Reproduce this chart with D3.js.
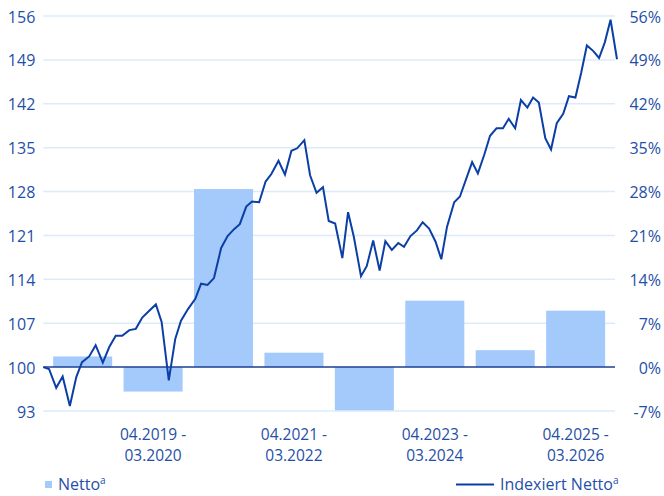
<!DOCTYPE html>
<html>
<head>
<meta charset="utf-8">
<script src="https://cdn.jsdelivr.net/npm/d3@7"></script>
<style>
  body { margin: 0; background: #fff; }
  text { font-family: "Open Sans", "Noto Sans", sans-serif; }
</style>
</head>
<body>
<svg id="chart" width="664" height="496"></svg>
<script>
// Jahreszeiträume (Balken) und Nettorendite je Zeitraum in %
const zeitraeume = [
  "04.2018 - 03.2019", "04.2019 - 03.2020", "04.2020 - 03.2021", "04.2021 - 03.2022",
  "04.2022 - 03.2023", "04.2023 - 03.2024", "04.2024 - 03.2025", "04.2025 - 03.2026"
];
const nettoProzent = [1.7, -3.9, 28.4, 2.3, -6.9, 10.6, 2.7, 9.0];

// Indexierte Nettoentwicklung (Start = 100), Zeitpunkte in Dezimaljahren
const indexZeit = [
  2018.25, 2018.33, 2018.43, 2018.52, 2018.62, 2018.71, 2018.79, 2018.89, 2018.98, 2019.08,
  2019.17, 2019.26, 2019.35, 2019.45, 2019.54, 2019.63, 2019.72, 2019.82, 2019.90, 2020.00,
  2020.09, 2020.17, 2020.27, 2020.37, 2020.45, 2020.54, 2020.63, 2020.73, 2020.82, 2020.91,
  2020.99, 2021.08, 2021.16, 2021.26, 2021.35, 2021.43, 2021.53, 2021.62, 2021.71, 2021.79,
  2021.89, 2021.97, 2022.06, 2022.15, 2022.23, 2022.32, 2022.42, 2022.50, 2022.58, 2022.68,
  2022.76, 2022.85, 2022.94, 2023.02, 2023.11, 2023.20, 2023.28, 2023.37, 2023.46, 2023.54,
  2023.63, 2023.72, 2023.80, 2023.88, 2023.98, 2024.06, 2024.23, 2024.31, 2024.40, 2024.48,
  2024.57, 2024.66, 2024.74, 2024.83, 2024.91, 2025.00, 2025.08, 2025.16, 2025.25, 2025.33,
  2025.41, 2025.50, 2025.58, 2025.67, 2025.75, 2025.83, 2025.92, 2026.00, 2026.08, 2026.16,
  2026.25
];
const indexWert = [
  100.0, 99.7, 96.7, 98.5, 93.8, 98.4, 100.8, 101.7, 103.5, 100.7,
  103.2, 105.0, 105.0, 105.9, 106.1, 107.9, 108.9, 110.0, 107.2, 97.9,
  104.5, 107.4, 109.3, 110.9, 113.3, 113.1, 114.2, 119.0, 120.9, 122.0,
  122.8, 125.6, 126.4, 126.3, 129.6, 130.8, 132.9, 130.7, 134.5, 134.9,
  136.2, 130.6, 127.8, 128.7, 123.3, 122.9, 117.4, 124.7, 120.8, 114.5,
  116.1, 120.2, 115.4, 120.1, 118.7, 119.8, 119.2, 120.9, 121.8, 123.1,
  122.1, 120.0, 117.2, 122.4, 126.3, 127.2, 132.7, 130.9, 133.9, 136.9,
  138.1, 138.1, 139.6, 138.1, 142.6, 141.4, 143.0, 142.2, 136.5, 134.7,
  138.9, 140.4, 143.2, 143.0, 146.9, 151.3, 150.4, 149.3, 151.8, 155.4,
  149.1
];

const indexTicks = [93, 100, 107, 114, 121, 128, 135, 142, 149, 156];
const prozentTicks = [-7, 0, 7, 14, 21, 28, 35, 42, 49, 56];

const farbe = {
  text: "#1f4fa8",
  linie: "#0c3fa6",
  balken: "#a3cafb",
  gitter: "#dcebfc",
  null: "#1d3f91"
};

const svg = d3.select("#chart");
const links = 43.3, rechts = 615, oben = 16, unten = 411;

const y = d3.scaleLinear().domain([93, 156]).range([unten, oben]);
const yProzent = d3.scaleLinear().domain([-7, 56]).range([unten, oben]);
const x = d3.scaleBand().domain(zeitraeume).range([links, rechts])
  .paddingInner(0.162).paddingOuter(0.14);
const xZeit = d3.scaleLinear().domain([2018.25, 2026.25]).range([links, 617]);

// Gitterlinien
svg.append("g").selectAll("line").data(indexTicks.filter(t => t !== 100)).join("line")
  .attr("x1", links).attr("x2", rechts)
  .attr("y1", d => y(d)).attr("y2", d => y(d))
  .attr("stroke", farbe.gitter).attr("stroke-width", 1.5);

// Balken: Nettorendite je Zeitraum
svg.append("g").selectAll("rect").data(zeitraeume).join("rect")
  .attr("x", d => x(d))
  .attr("width", x.bandwidth())
  .attr("y", (d, i) => yProzent(Math.max(0, nettoProzent[i])))
  .attr("height", (d, i) => Math.abs(yProzent(nettoProzent[i]) - yProzent(0)))
  .attr("fill", farbe.balken);

// Nulllinie
svg.append("line")
  .attr("x1", links).attr("x2", rechts)
  .attr("y1", y(100)).attr("y2", y(100))
  .attr("stroke", farbe.null).attr("stroke-width", 1.5);

// Indexlinie
const punkte = indexZeit.map((t, i) => [t, indexWert[i]]);
svg.append("path")
  .datum(punkte)
  .attr("fill", "none")
  .attr("stroke", farbe.linie)
  .attr("stroke-width", 2)
  .attr("stroke-linejoin", "miter")
  .attr("d", d3.line().x(d => xZeit(d[0])).y(d => y(d[1])));

// Achsen
function achsenStil(g) {
  g.select(".domain").remove();
  g.selectAll(".tick line").remove();
  g.selectAll("text")
    .attr("fill", farbe.text)
    .style("font-size", "16px")
    .style("font-family", "'Open Sans', sans-serif");
}

svg.append("g")
  .attr("transform", `translate(${links},0)`)
  .call(d3.axisLeft(y).tickValues(indexTicks).tickSize(0).tickPadding(8).tickFormat(d3.format("d")))
  .call(achsenStil)
  .selectAll("text").attr("dy", "0.38em");

svg.append("g")
  .attr("transform", `translate(661,0)`)
  .call(d3.axisLeft(yProzent).tickValues(prozentTicks).tickSize(0).tickPadding(0).tickFormat(d => d + "%"))
  .call(achsenStil)
  .selectAll("text").attr("dy", "0.38em");

// Zeitraum-Achse: jede zweite Beschriftung, zweizeilig
const xAchse = svg.append("g")
  .attr("transform", `translate(0,${unten})`)
  .call(d3.axisBottom(x).tickValues(zeitraeume.filter((d, i) => i % 2 === 1)).tickSize(0))
  .call(achsenStil);
xAchse.selectAll(".tick text").remove();

xAchse.selectAll(".tick").selectAll("text.zeile")
  .data(d => { const [a, b] = d.split(" - "); return [a + " -", b]; })
  .join("text")
  .attr("class", "zeile")
  .attr("text-anchor", "middle")
  .attr("fill", farbe.text)
  .style("font-size", "15.5px")
  .attr("x", 0)
  .attr("y", (d, i) => 28.5 + i * 21.2)
  .text(d => d);

// Legende
const legende = svg.append("g");
legende.append("rect")
  .attr("x", 45).attr("y", 481).attr("width", 7).attr("height", 7)
  .attr("fill", farbe.balken);
const lt1 = legende.append("text")
  .attr("x", 58).attr("y", 490)
  .attr("fill", farbe.text).style("font-size", "16px");
lt1.append("tspan").text("Netto");
lt1.append("tspan").attr("dy", -6).style("font-size", "10px").text("a");

legende.append("line")
  .attr("x1", 456).attr("x2", 494).attr("y1", 484.5).attr("y2", 484.5)
  .attr("stroke", farbe.linie).attr("stroke-width", 2);
const lt2 = legende.append("text")
  .attr("x", 500).attr("y", 490)
  .attr("fill", farbe.text).style("font-size", "16px");
lt2.append("tspan").text("Indexiert Netto");
lt2.append("tspan").attr("dy", -6).style("font-size", "10px").text("a");
</script>
</body>
</html>
